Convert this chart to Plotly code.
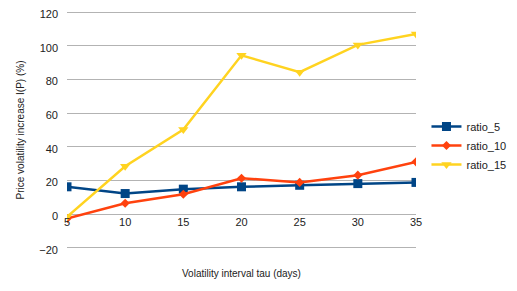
import plotly.graph_objects as go

tau = [5, 10, 15, 20, 25, 30, 35]
ratio_5 = [16.3, 12.3, 14.9, 16.3, 17.2, 18.2, 18.9]
ratio_10 = [-2.6, 6.5, 11.9, 21.4, 18.9, 23.2, 31.1]
ratio_15 = [-1.5, 28.5, 50.3, 94.3, 84.3, 100.5, 107]
y_ticks = [-20, 0, 20, 40, 60, 80, 100, 120]

series = [
    ("ratio_5", ratio_5, "#004586", "square", 9),
    ("ratio_10", ratio_10, "#ff420e", "diamond", 7),
    ("ratio_15", ratio_15, "#ffd320", "triangle-down", 9),
]

fig = go.Figure()
for name, vals, color, sym, sz in series:
    fig.add_trace(go.Scatter(
        x=tau, y=vals, name=name, mode="lines+markers",
        line=dict(color=color, width=2.5),
        marker=dict(symbol=sym, size=sz, color=color),
    ))

ymin, ymax = -21.2, 121.2
fig.update_layout(
    width=509, height=283,
    margin=dict(l=59, r=101, t=2, b=41, autoexpand=False),
    paper_bgcolor="white", plot_bgcolor="white",
    font=dict(family="Liberation Sans, Arial, sans-serif", size=11, color="#222"),
    showlegend=True,
    legend=dict(x=1.03, y=0.575, xanchor="left", yanchor="top",
                font=dict(size=11), tracegroupgap=0, itemwidth=30),
    xaxis=dict(range=[5, 35], tickvals=tau, showgrid=False, zeroline=False,
               anchor="free", position=(0 - ymin) / (ymax - ymin),
               ticks="", showline=False, tickfont=dict(size=11), automargin=False,
               ticklabeloverflow="allow"),
    yaxis=dict(range=[ymin, ymax], tickvals=y_ticks, showgrid=True,
               gridcolor="#b3b3b3", gridwidth=1, zeroline=False,
               ticks="", showline=False, tickfont=dict(size=11), automargin=False,
               ticklabelstandoff=8, ticklabeloverflow="allow", ticklabelshift=2,
               title=dict(text="Price volatility increase I(P) (%)", font=dict(size=10), standoff=12)),
)
fig.add_annotation(text="Volatility interval tau (days)", xref="paper", yref="paper",
                   x=0.5, y=0, yshift=-16, yanchor="top", showarrow=False,
                   font=dict(size=10))
fig.write_html("out.html")
